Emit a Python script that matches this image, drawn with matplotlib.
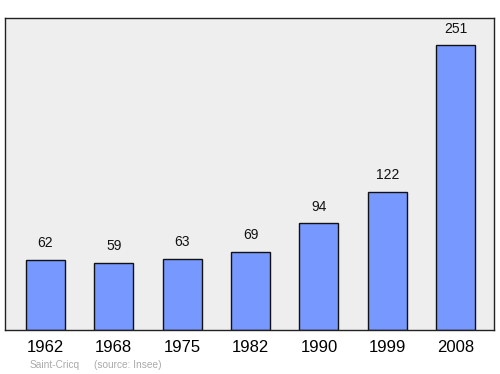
import matplotlib
matplotlib.use("Agg")
import matplotlib.pyplot as plt

plt.rcParams["font.family"] = ["Liberation Sans", "DejaVu Sans"]

# population data
YEARS = ["1962", "1968", "1975", "1982", "1990", "1999", "2008"]
POPULATION = [62, 59, 63, 69, 94, 122, 251]
PLACE = "Saint-Cricq"
SOURCE = "(source: Insee)"

fig = plt.figure(figsize=(5.0, 3.74), dpi=100)
ax = fig.add_axes([5 / 500, 1 - 330 / 374, 489 / 500, 312 / 374])
ax.set_facecolor("#eeeeee")

x = list(range(len(YEARS)))
ax.bar(x, POPULATION, width=0.57, color="#7799ff", edgecolor="#111111", linewidth=1)

for xi, val in zip(x, POPULATION):
    ax.annotate(str(val), xy=(xi, val), xytext=(0, 7), textcoords="offset points",
                ha="center", va="bottom", fontsize=10, color="#111111")

ax.set_xlim(-0.59, 6.56)
ax.set_ylim(0, 275)
ax.set_yticks([])
ax.set_xticks(x)
ax.set_xticklabels(YEARS, fontsize=12)
ax.tick_params(axis="x", length=0, pad=7)
for s in ax.spines.values():
    s.set_color("#222222")
    s.set_linewidth(1)

fig.text(30 / 500, 1 - 365 / 374, PLACE, fontsize=7.3, color="#aaaaaa", va="center")
fig.text(94 / 500, 1 - 365 / 374, SOURCE, fontsize=7.3, color="#aaaaaa", va="center")

fig.savefig("out.png", dpi=100)
